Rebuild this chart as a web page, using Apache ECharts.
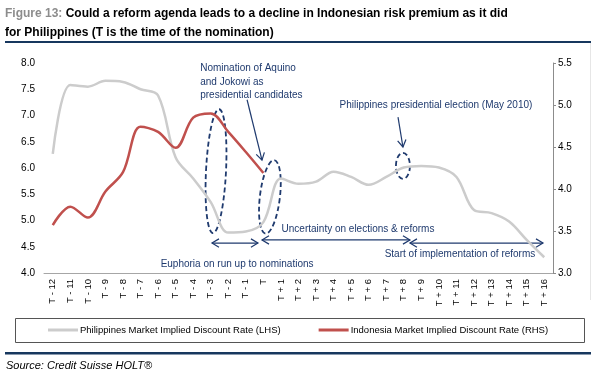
<!DOCTYPE html>
<html>
<head>
<meta charset="UTF-8">
<title>Figure 13</title>
<script src="https://cdn.jsdelivr.net/npm/echarts@6/dist/echarts.min.js"></script>
<style>
    html, body { margin: 0; padding: 0; background: #fff; }
    #main { width: 601px; height: 376px; }
</style>
</head>
<body>
<div id="main"></div>
<script>
// categories: T is the time of the nomination
var periods = ['T - 12', 'T - 11', 'T - 10', 'T - 9', 'T - 8', 'T - 7', 'T - 6', 'T - 5', 'T - 4', 'T - 3', 'T - 2', 'T - 1', 'T',
    'T + 1', 'T + 2', 'T + 3', 'T + 4', 'T + 5', 'T + 6', 'T + 7', 'T + 8', 'T + 9', 'T + 10', 'T + 11', 'T + 12', 'T + 13', 'T + 14', 'T + 15', 'T + 16'];

// Philippines market implied discount rate (LHS)
var philippines = [6.27, 7.58, 7.55, 7.66, 7.64, 7.50, 7.38, 6.20, 5.80, 5.35, 4.77, 4.79, 4.97,
    5.80, 5.70, 5.74, 5.93, 5.83, 5.68, 5.83, 6.01, 6.04, 6.01, 5.83, 5.20, 5.14, 4.98, 4.63, 4.30];

// Indonesia market implied discount rate (RHS), up to T
var indonesia = [3.57, 3.79, 3.66, 3.97, 4.20, 4.74, 4.68, 4.49, 4.85, 4.90, 4.68, 4.44, 4.19];

var sans = '"Liberation Sans", Arial, sans-serif';
var navy = '#1f3a6e';

var chart = echarts.init(document.getElementById('main'));

var option = {
    animation: false,
    title: {
        left: 5, top: 4, padding: 0,
        text: '{g|Figure 13: }{b|Could a reform agenda leads to a decline in Indonesian risk premium as it did}\n{b|for Philippines (T is the time of the nomination)}',
        textStyle: {
            rich: {
                g: { color: '#8c8c8c', fontWeight: 'bold', fontSize: 12, fontFamily: sans, lineHeight: 19 },
                b: { color: '#000', fontWeight: 'bold', fontSize: 12, fontFamily: sans, lineHeight: 19 }
            }
        }
    },
    grid: { left: 44, right: 48, top: 63, bottom: 103 },
    legend: {
        left: 48, top: 325, width: 540, padding: 0,
        itemWidth: 30, itemHeight: 3, itemGap: 38,
        icon: 'rect',
        textStyle: { fontSize: 9.5, fontFamily: sans, color: '#000', padding: [0, 0, 0, -3] },
        data: ['Philippines Market Implied Discount Rate (LHS)', 'Indonesia Market Implied Discount Rate (RHS)']
    },
    xAxis: {
        type: 'category',
        data: periods,
        boundaryGap: true,
        axisLine: { lineStyle: { color: '#a6a6a6' } },
        axisTick: { inside: true, length: 4, lineStyle: { color: '#a6a6a6' } },
        axisLabel: { rotate: 90, fontSize: 9.5, fontFamily: sans, color: '#000', margin: 6 }
    },
    yAxis: [{
        type: 'value', min: 4, max: 8, interval: 0.5,
        axisLine: { show: false }, axisTick: { show: false }, splitLine: { show: false },
        axisLabel: { fontSize: 10, fontFamily: sans, color: '#000', margin: 9,
            formatter: function (v) { return v.toFixed(1); } }
    }, {
        type: 'value', min: 3, max: 5.5, interval: 0.5, position: 'right',
        axisLine: { show: true, lineStyle: { color: '#8c8c8c' } },
        axisTick: { show: true, length: 3, lineStyle: { color: '#8c8c8c' } },
        splitLine: { show: false },
        axisLabel: { fontSize: 10, fontFamily: sans, color: '#000', margin: 5,
            formatter: function (v) { return v.toFixed(1); } }
    }],
    series: [{
        name: 'Philippines Market Implied Discount Rate (LHS)',
        type: 'line', data: philippines, yAxisIndex: 0,
        smooth: 0.35, showSymbol: false,
        itemStyle: { color: '#cccccc' },
        lineStyle: { color: '#cccccc', width: 2.5 }
    }, {
        name: 'Indonesia Market Implied Discount Rate (RHS)',
        type: 'line', data: indonesia, yAxisIndex: 1,
        smooth: 0.35, showSymbol: false,
        itemStyle: { color: '#c0504d' },
        lineStyle: { color: '#c0504d', width: 2.5 }
    }]
};
chart.setOption(option);

// annotations, anchored on [category index (may be fractional), LHS value]
function pt(i, v) {
    var p0 = chart.convertToPixel({ xAxisIndex: 0, yAxisIndex: 0 }, [0, v]);
    var p1 = chart.convertToPixel({ xAxisIndex: 0, yAxisIndex: 0 }, [1, v]);
    return [p0[0] + i * (p1[0] - p0[0]), p0[1]];
}

function head(tip, from, size) {
    var dx = tip[0] - from[0], dy = tip[1] - from[1];
    var len = Math.sqrt(dx * dx + dy * dy);
    var ux = dx / len, uy = dy / len;
    var a = [tip[0] - ux * size - uy * size * 0.6, tip[1] - uy * size + ux * size * 0.6];
    var b = [tip[0] - ux * size + uy * size * 0.6, tip[1] - uy * size - ux * size * 0.6];
    return { type: 'polyline', shape: { points: [a, tip, b] }, style: { stroke: navy, lineWidth: 1.2, fill: null } };
}

function arrow(from, to, both) {
    var p = pt(from[0], from[1]), q = pt(to[0], to[1]);
    var els = [{ type: 'line', shape: { x1: p[0], y1: p[1], x2: q[0], y2: q[1] }, style: { stroke: navy, lineWidth: 1.2 } }];
    els.push(head(q, p, 7));
    if (both) els.push(head(p, q, 7));
    return els;
}

function ellipse(c, rx, ry, rot) {
    var p = pt(c[0], c[1]);
    return {
        type: 'ellipse', x: p[0], y: p[1], rotation: rot || 0,
        shape: { cx: 0, cy: 0, rx: rx, ry: ry },
        style: { stroke: navy, lineWidth: 1.8, lineDash: [5, 3], fill: null }
    };
}

function label(c, text, align, vAlign) {
    var p = pt(c[0], c[1]);
    return {
        type: 'text', x: p[0], y: p[1],
        style: { text: text, fill: navy, font: '10px ' + sans, align: align || 'center', verticalAlign: vAlign || 'middle', lineHeight: 13.5 }
    };
}

var notes = [];
notes.push(ellipse([9.3, 5.94], 10, 62, -0.05));
notes.push(ellipse([12.37, 5.45], 10, 37, -0.12));
notes.push(ellipse([19.95, 6.04], 7, 13, 0));
notes = notes.concat(arrow([11.07, 7.30], [11.92, 6.15], false));
notes = notes.concat(arrow([19.67, 6.97], [19.95, 6.40], false));
notes = notes.concat(arrow([9.07, 4.57], [11.69, 4.57], true));
notes = notes.concat(arrow([11.92, 4.63], [20.35, 4.63], true));
notes = notes.concat(arrow([20.35, 4.57], [27.93, 4.57], true));
notes.push(label([8.4, 8.02], 'Nomination of Aquino\nand Jokowi as\npresidential candidates', 'left', 'top'));
notes.push(label([21.83, 7.2], 'Philippines presidential election (May 2010)'));
notes.push(label([17.39, 4.84], 'Uncertainty on elections & reforms'));
notes.push(label([10.5, 4.17], 'Euphoria on run up to nominations'));
notes.push(label([23.2, 4.36], 'Start of implementation of reforms'));

// frame pieces: rules under title and above source, legend box, right border
var frame = [
    { type: 'rect', shape: { x: 5, y: 41, width: 586, height: 2 }, style: { fill: '#17375e' } },
    { type: 'line', shape: { x1: 590.5, y1: 43, x2: 590.5, y2: 300 }, style: { stroke: '#e6e6e6', lineWidth: 1 } },
    { type: 'rect', shape: { x: 15.5, y: 318.5, width: 569, height: 24 }, style: { stroke: '#555', lineWidth: 1, fill: null } },
    { type: 'rect', shape: { x: 5, y: 352, width: 586, height: 2.5 }, style: { fill: '#17375e' } },
    { type: 'text', x: 6, y: 366, style: { text: 'Source: Credit Suisse HOLT®', fill: '#000', font: 'italic 11px ' + sans, verticalAlign: 'middle' } }
];

chart.setOption({ graphic: { elements: frame.concat(notes) } });

window.addEventListener('resize', function () { chart.resize(); });
</script>
</body>
</html>
